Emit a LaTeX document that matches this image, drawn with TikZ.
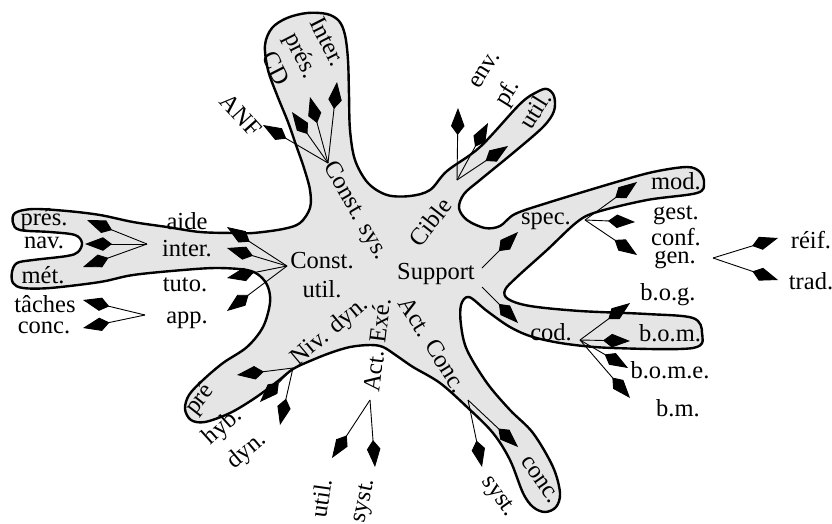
\documentclass[tikz,border=0pt]{standalone}
\usepackage{fontspec}
\setmainfont{Liberation Serif}
\usetikzlibrary{arrows.meta}

\begin{document}
\begin{tikzpicture}[x=1pt,y=-1pt,
		outline/.style={draw,line width=2.4pt,fill=black!10,line join=round},
		pointer/.style={line width=0.9pt,-{Kite[length=27pt,width=13.5pt,inset=9pt]}},
		lbl/.style={font=\fontsize{24.5}{29}\selectfont,inner sep=0pt,align=center}]
		
		\useasboundingbox (0,0) rectangle (832,523);
		
		%outline
		\draw[outline] plot[smooth cycle,tension=0.55] coordinates {
			(277,95) (268,70) (265,45) (272,28) (287,18) (307,13) (327,14) (339,21) (345,35) (348,60)
			(349,95) (350,130) (355,160) (368,183) (387,195) (410,196) (430,190) (447,171) (480,147)
			(520,104) (537,92) (547,89) (554,96) (554,111) (543,127) (513,153) (480,180) (464,194)
			(459,208) (467,220) (485,228) (500,226) (515,214) (547,203) (613,183) (653,172) (687,167)
			(700,172) (704,183) (697,193) (647,200) (597,212) (577,222) (547,250) (517,277) (505,290)
			(508,299) (530,306) (580,311) (647,314) (693,318) (702,333) (693,348) (613,348) (567,344)
			(533,337) (510,327) (487,311) (469,297) (461,305) (461,325) (467,350) (487,383) (510,410)
			(533,433) (553,467) (560,493) (556,507) (545,512) (533,507) (523,493) (510,460) (493,433)
			(467,407) (440,383) (413,367) (397,356) (383,347) (370,345) (350,347) (330,353) (310,361)
			(293,369) (278,381) (255,398) (230,413) (205,422) (191,420) (185,409) (189,395) (203,380)
			(223,363) (247,347) (263,327) (270,303) (268,287) (260,276) (247,270) (217,268) (183,270)
			(133,275) (100,282) (50,288) (23,288) (13,283) (12,272) (17,263) (33,260) (67,256)
			(78,252) (82,243) (75,235) (50,232) (20,230) (13,223) (15,213) (33,209) (67,211)
			(100,215) (133,222) (167,227) (200,232) (233,233) (253,233) (283,229) (300,223) (310,208)
			(310,190) (304,168) (296,145) (288,122)};
		
		%hubs
		\coordinate (csys) at (328,163);
		\coordinate (cible) at (457,180);
		\coordinate (cutil) at (287,266);
		\coordinate (linter) at (147,244);
		\coordinate (lapp) at (145,315);
		\coordinate (supup) at (482,268);
		\coordinate (supdn) at (482,287);
		\coordinate (spec) at (585,220);
		\coordinate (rgen) at (713,258);
		\coordinate (cod) at (580,340);
		\coordinate (niv) at (293,368);
		\coordinate (exe) at (370,400);
		\coordinate (aconc) at (468,400);
		
		%arrows
		\foreach \h/\n/\x/\y in {csys/anf/263/125, csys/cd/292/112, csys/pres/310/97, csys/inter/337/82,
			cible/env/458/108, cible/pf/488/123, cible/util/508/146,
			cutil/aide/227/227, cutil/inter/227/248, cutil/tuto/227/278, cutil/app/227/311,
			linter/pres/87/220, linter/nav/85/244, linter/met/83/267,
			lapp/taches/83/300, lapp/conc/83/328,
			supup/spec/518/232, supdn/cod/518/323,
			spec/mod/637/182, spec/gest/635/222, spec/gen/637/255,
			rgen/reif/778/238, rgen/trad/778/280,
			cod/bog/630/303, cod/bom/630/341, cod/bome/628/368, cod/bm/630/398,
			niv/pre/237/375, niv/hyb/260/402, niv/dyn/280/425,
			exe/util/332/458, exe/syst/375/467,
			aconc/syst/482/467, aconc/conc/518/447}
		{
			\coordinate (\h-\n) at (\x,\y);
			\draw[pointer] (\h) -- (\h-\n);
		}
		
		%labels
		\foreach \n/\x/\y/\r/\t in {lcd/302/55/-63/{Inter.\\prés.\\CD}, anf/241/115/-48/ANF,
			csys/355/211/-60/Const. sys., cible/430/222/52/Cible,
			env/485/70/58/env., pf/508/93/58/pf., utila/535/110/58/util.,
			support/436/274/0/Support, cutil/322/275/0/{Const.\\util.},
			aide/187/221/0/aide, inter/187/249/0/inter., tuto/185/285/0/tuto., app/187/320/0/app.,
			pres/44/220/0/prés., nav/44/243/0/nav., met/43/275/0/mét.,
			taches/45/304/0/tâches, conca/44/328/0/conc.,
			spec/546/221/0/spec., mod/676/181/0/mod., gest/676/215/0/gest., conf/676/237/0/conf.,
			gen/675/260/0/gen., reif/811/240/0/réif., trad/811/281/0/trad.,
			cod/551/332/0/cod., bog/668/295/0/b.o.g., bom/670/333/0/b.o.m.,
			bome/670/370/0/b.o.m.e., bm/678/408/0/b.m.,
			niv/330/332/40/Niv. dyn., exe/377/345/83/Act. Exé., aconc/433/345/-58/Act. Conc.,
			pre/200/400/52/pré, hyb/223/427/42/hyb., dyn/247/451/40/dyn.,
			utilb/321/498/82/util., systa/365/501/78/syst.,
			systb/498/497/-55/syst., concb/540/480/-55/conc.}
		{
			\node[lbl,rotate=\r] (l-\n) at (\x,\y) {\t};
		}
		
	\end{tikzpicture}
\end{document}
